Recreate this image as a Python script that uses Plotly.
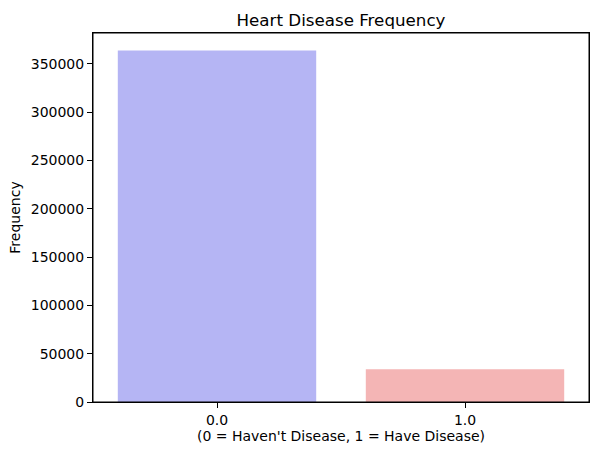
import plotly.graph_objects as go

# ── DATA ──────────────────────────────────────
CATEGORIES  = [0, 1]
TICK_LABELS = ["0.0", "1.0"]
FREQUENCY   = [363800, 34000]
COLORS      = ["#b5b5f4", "#f4b5b5"]
Y_TICKS     = [0, 50000, 100000, 150000, 200000, 250000, 300000, 350000]

FONT = "DejaVu Sans"

# ── FIGURE ────────────────────────────────────
fig = go.Figure()

fig.add_trace(go.Bar(x=CATEGORIES, y=FREQUENCY,
                     width=0.8,
                     marker=dict(color=COLORS, line=dict(width=0)),
                     showlegend=False))

fig.update_layout(
    width=597, height=455,
    margin=dict(l=93, r=8, t=33, b=53, autoexpand=False),
    paper_bgcolor="white",
    plot_bgcolor="white",
    font=dict(family=FONT, size=14, color="black"),
    title=dict(text="Heart Disease Frequency",
               font=dict(family=FONT, size=16.7, color="black"),
               x=0.5, xref="paper", xanchor="center",
               y=1 - 20 / 455, yref="container", yanchor="middle"),
    bargap=0.2,
    # axes frame (the mirrored lines don't show up)
    shapes=[dict(type="rect", xref="paper", yref="paper",
                 x0=0, x1=1, y0=0, y1=1,
                 line=dict(color="black", width=1), layer="above")],
)

fig.update_xaxes(
    range=[-0.5, 1.5],
    tickvals=CATEGORIES, ticktext=TICK_LABELS,
    ticks="outside", ticklen=5, tickwidth=1, tickcolor="black",
    showline=True, linecolor="black", linewidth=1, mirror=True,
    showgrid=False, zeroline=False, automargin=False,
    tickfont=dict(size=14),
    title=dict(text="(0 = Haven't Disease, 1 = Have Disease)",
               font=dict(size=14), standoff=4),
)

fig.update_yaxes(
    range=[0, 381900],
    tickvals=Y_TICKS, ticktext=[str(v) for v in Y_TICKS],
    ticks="outside", ticklen=5, tickwidth=1, tickcolor="black",
    showline=True, linecolor="black", linewidth=1, mirror=True,
    showgrid=False, zeroline=False, automargin=False,
    tickfont=dict(size=14),
    title=dict(text="Frequency", font=dict(size=14), standoff=6),
)

# drop the default page margin so the figure sits at 0,0
fig.write_html("out.html", config={"displayModeBar": False},
               post_script="document.body.style.margin='0';")
